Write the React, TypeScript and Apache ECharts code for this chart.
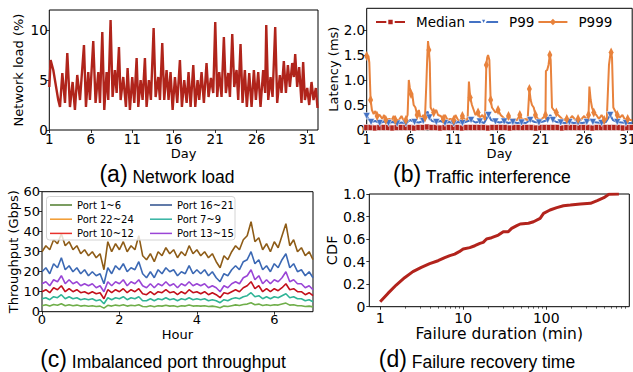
import React, { useEffect, useRef } from "react";
import * as echarts from "echarts";

// ---------- (a) Network load ----------
const loadDays = [1.0,1.16,1.48,2.08,2.29,2.57,2.89,3.17,3.49,3.81,
4.09,4.37,4.70,5.18,5.42,5.70,5.90,6.30,6.58,6.91,
7.11,7.39,7.63,7.91,8.11,8.39,8.63,8.91,9.12,9.40,
9.60,9.92,10.24,10.44,10.72,11.00,11.25,11.53,11.73,12.01,
12.25,12.53,12.73,13.01,13.25,13.58,13.82,14.14,14.34,14.62,
14.86,15.14,15.38,15.62,15.87,16.15,16.43,16.75,16.99,17.27,
17.56,17.79,18.04,18.36,18.60,18.88,19.08,19.36,19.64,19.96,
20.20,20.49,20.77,21.01,21.25,21.49,21.77,22.05,22.29,22.58,
22.78,23.06,23.30,23.58,23.78,24.06,24.30,24.58,24.82,25.11,
25.39,25.67,25.91,26.19,26.47,26.79,27.03,27.16,27.40,27.68,
27.92,28.24,28.48,28.80,29.00,29.28,29.53,29.77,30.01,30.29,
30.49,30.65,30.89,31.13,31.41,31.61,31.82,32.10,32.34,32.62,
32.86,33.14,33.34];
const loadVals = [4.3,7.0,6.0,3.0,2.3,5.7,2.7,7.7,2.3,4.8,
2.0,5.5,3.0,8.5,2.3,5.8,3.0,8.9,2.7,5.8,
2.7,9.8,2.0,5.8,3.0,11.0,3.3,6.0,3.7,8.3,
3.0,5.3,2.3,6.2,2.0,5.3,2.7,7.2,2.3,5.0,
3.0,7.2,2.3,5.0,3.0,10.2,3.3,5.3,3.0,8.7,
3.0,6.0,3.0,5.8,2.0,5.3,2.7,7.0,2.3,5.0,
2.7,5.8,2.3,6.5,2.3,5.0,3.0,5.8,2.7,6.7,
3.3,5.2,3.7,10.8,3.3,5.8,3.3,9.3,3.7,5.7,
3.3,9.6,4.3,6.0,3.0,8.6,2.7,6.0,2.3,5.7,
2.3,6.0,3.0,5.8,2.3,6.0,3.7,10.5,3.0,5.3,
3.3,10.3,2.7,5.5,3.7,6.9,3.7,6.5,4.3,6.7,
5.3,7.6,4.3,6.3,2.7,6.8,3.0,4.2,2.5,4.8,
3.0,4.2,2.2];
const loadTickPos = [1, 6, 11, 16, 21, 26, 32.1];
const loadTickLabels = ["1", "6", "11", "16", "21", "26", "31"];
const loadYTicks = [0, 5, 10];

// ---------- (b) Traffic interference ----------
const latDayTicks = [1, 6, 11, 16, 21, 26, 31];
const latYTicks = [0, 0.5, 1, 1.5, 2];
const medianStartDay = 1;
const medianStepDay = 0.5;
const medianVals = [0.05,0.05,0.04,0.05,0.05,0.05,0.04,0.05,0.05,0.05,
0.05,0.04,0.05,0.05,0.06,0.05,0.05,0.04,0.05,0.05,
0.05,0.05,0.04,0.05,0.05,0.05,0.05,0.05,0.04,0.05,
0.05,0.05,0.05,0.04,0.05,0.05,0.05,0.05,0.05,0.04,
0.05,0.05,0.05,0.05,0.05,0.04,0.05,0.05,0.05,0.05,
0.05,0.05,0.04,0.05,0.05,0.05,0.05,0.05,0.05,0.04,
0.05,0.05];
const p99Days = [1.0,1.2,1.5,2.0,2.5,3.0,3.5,4.0,4.5,5.0,5.5,6.0,6.5,7.0,7.5,8.0,8.2,8.5,9.0,9.5,
10.0,10.5,11.0,11.5,12.0,12.5,13.0,13.5,14.0,14.5,15.0,15.3,15.8,16.3,16.8,17.3,17.8,18.3,18.8,19.3,
19.8,20.3,20.8,21.3,21.8,22.1,22.4,22.8,23.3,23.8,24.3,24.8,25.3,25.8,26.3,26.7,27.0,27.5,28.0,28.5,
29.0,29.3,29.8,30.3,30.8,31.5];
const p99Vals = [0.28,0.22,0.16,0.18,0.14,0.17,0.14,0.16,0.13,0.15,0.13,0.2,0.16,0.15,0.18,0.37,0.25,0.18,0.16,0.18,
0.14,0.16,0.13,0.16,0.14,0.17,0.2,0.15,0.17,0.14,0.3,0.2,0.17,0.15,0.17,0.14,0.16,0.14,0.15,0.14,
0.2,0.16,0.15,0.17,0.2,0.3,0.2,0.16,0.15,0.14,0.16,0.14,0.15,0.14,0.16,0.22,0.16,0.15,0.14,0.16,
0.3,0.2,0.16,0.15,0.14,0.14];
const p999Days = [1.0,1.1,1.2,1.3,1.45,1.6,1.8,2.0,2.2,2.5,2.8,3.0,3.2,3.6,3.9,4.1,4.3,4.7,5.0,5.2,
5.5,5.7,5.84,5.95,6.1,6.25,6.4,6.6,6.8,7.0,7.2,7.5,7.7,7.85,7.95,8.05,8.15,8.25,8.35,8.5,
8.7,9.0,9.2,9.5,9.8,10.0,10.3,10.6,11.0,11.2,11.5,11.8,12.0,12.3,12.6,12.75,12.9,13.1,13.3,13.5,
13.8,14.0,14.3,14.6,14.75,14.85,14.95,15.1,15.25,15.4,15.6,15.8,16.1,16.4,16.7,17.0,17.3,17.6,18.0,18.3,
18.6,18.9,19.2,19.5,19.7,19.85,20.0,20.2,20.4,20.7,21.0,21.3,21.55,21.6,21.75,21.9,22.05,22.15,22.3,22.5,
22.8,23.0,23.3,23.6,24.0,24.3,24.6,25.0,25.3,25.6,26.0,26.3,26.5,26.6,26.75,26.9,27.1,27.4,27.7,28.0,
28.3,28.6,28.85,29.0,29.1,29.2,29.35,29.5,29.8,30.1,30.4,30.7,31.0,31.3,31.5];
const p999Vals = [1.48,1.45,1.48,1.35,0.6,0.4,0.32,0.38,0.28,0.3,0.22,0.3,0.2,0.22,0.2,0.28,0.2,0.2,0.28,0.2,
0.2,0.3,1.0,0.85,0.72,0.7,0.5,0.45,0.3,0.4,0.22,0.3,0.25,0.9,1.4,1.78,1.6,1.35,0.45,0.4,
0.35,0.4,0.3,0.28,0.22,0.3,0.2,0.22,0.2,0.3,0.2,0.2,0.28,0.2,0.22,0.97,0.65,0.5,0.4,0.3,
0.35,0.25,0.3,0.2,1.3,1.45,1.5,1.4,0.6,0.45,0.4,0.35,0.4,0.3,0.25,0.2,0.28,0.2,0.22,0.2,
0.3,0.2,0.22,0.2,0.82,0.6,0.5,0.45,0.3,0.22,0.2,0.25,0.3,1.18,1.2,1.3,1.5,1.4,0.45,0.4,
0.35,0.3,0.25,0.2,0.22,0.2,0.28,0.2,0.22,0.2,0.28,0.2,0.3,0.87,0.6,0.45,0.35,0.3,0.22,0.3,
0.2,0.22,1.3,1.5,1.55,1.45,0.45,0.4,0.3,0.25,0.3,0.2,0.22,0.2,0.2];

// ---------- (c) Imbalanced port throughput ----------
const hourStep = 0.1;
const hourTicks = [0, 2, 4, 6];
const port1to6 = [3,3.5,2.8,3.6,3.2,4,3,3.5,3,3.3, 2.8,3.1,2.7,3,2.6,2.8,1.8,3.2,2.8,3.3, 3,3.5,2.8,3.2,3,3.5,2.6,2.5,3,2.5, 3,2.8,3.2,2.8,3,2.5,3,2.8,3.3,2.8, 3,2.8,3,2.6,2.8,2.5,2,2.8,2.6,3, 3.4,3.1,3.6,3.8,4.5,3.5,3.8,3.1,3.5,3.1, 3.5,3.3,3.8,4.3,3.3,3.5,3,3,2.6,2.8, 2.4];
const port22to24 = [30,33,31,36,34,39,33,35,31,33, 29,31,28,30,27,29,21,35,30,34, 31,35,30,33,31,38,28,26,29,25, 30,28,32,29,31,27,30,28,33,29, 31,28,30,27,29,25,22,28,26,30, 33,31,36,38,45,35,37,31,34,30, 35,32,38,44,33,36,30,32,28,30, 26];
const port10to12 = [10,11,9.5,12,11,13,10,11.5,10,11, 9.5,10,9,10,9,9.5,6.5,11,9.5,11, 10,11.5,9.5,11,10,11.5,9,8.5,10,8.5, 10,9.5,11,9.5,10,8.5,10,9,11,9.5, 10,9,10,8.5,9.5,8.5,7,9.5,9,10, 11,10,12,13,15,11.5,13,10,11.5,10, 11.5,10.5,12,14,11,11.5,10,10,8.5,9.5, 8];
const port16to21 = [20,22,19,24,22,27,21,23,20,22, 19,21,18,20,18,19,14,22,19,23, 21,24,20,22,21,25,19,17,20,17, 21,19,22,20,21,18,20,19,23,19, 21,19,21,18,20,17,15,19,18,21, 23,21,25,26,30,24,26,21,23,20, 24,22,26,29,22,24,20,21,18,20, 17];
const port7to9 = [6.5,7,6,7.5,7,8.5,6.5,7.5,6.5,7, 6,6.5,6,6.5,5.5,6,4,7,6,7, 6.5,7.5,6,7,6.5,7.5,5.5,5.5,6.5,5.5, 6.5,6,7,6,6.5,5.5,6.5,6,7,6, 6.5,6,6.5,5.5,6,5.5,4.5,6,5.5,6.5, 7,6.5,7.5,8,9.5,7.5,8,6.5,7.5,6.5, 7.5,7,8,9,7,7.5,6.5,6.5,5.5,6, 5];
const port13to15 = [14,15,13,16,15,18,14,16,14,15, 13,14,13,14,12,13,10,15,13,15, 14,16,13,15,14,16,13,12,14,12, 14,13,15,13,14,12,14,13,15,13, 14,13,14,12,13,12,10,13,12,14, 15,14,17,18,21,16,18,14,16,14, 16,15,17,20,15,16,14,14,12,13, 11];
const portNames = ["Port 1~6", "Port 22~24", "Port 10~12", "Port 16~21", "Port 7~9", "Port 13~15"];
const portSeries = [port1to6, port22to24, port10to12, port16to21, port7to9, port13to15];
const portLineColors = ["#6fae4a", "#8e5c17", "#c3101c", "#3c69b4", "#2fb496", "#9a45d6"];
const portLegendColors = ["#4f7d2c", "#f29a2e", "#e8322c", "#2c4f8c", "#33b3a2", "#9a45d6"];

// ---------- (d) Failure recovery time ----------
const failDur = [1,1.24,1.56,1.97,2.48,3.13,3.95,4.98,6.0,6.9,7.9,8.95,10,12,13.8,15.9,17.4,19.1,22,26.5,
30.4,34.9,38.3,44.2,48.6,61.1,70.3,84.4,92.8,111,134,161,195,258,341,411,494,568,750];
const failCdf = [0.044,0.118,0.192,0.257,0.311,0.349,0.382,0.408,0.435,0.453,0.467,0.488,0.512,0.524,0.541,0.562,0.571,0.601,0.612,0.636,
0.666,0.666,0.695,0.719,0.734,0.74,0.754,0.784,0.828,0.858,0.879,0.896,0.902,0.911,0.917,0.941,0.967,0.997,1.0];
const durMajorTicks = [1, 10, 100];
const durMinorTicks = [2,3,4,5,6,7,8,9,20,30,40,50,60,70,80,90,200,300,400,500,600,700,800,900];

const FONT = "DejaVu Sans";
const TITLE_FONT = "Liberation Sans";
const fmt1 = (v: number) => (v === 0 ? "0" : v.toFixed(1));

function axis(o: any) {
  const { labelSize = 13.5, nameSize = 13, tickLen = 3, margin = 2, ticks, formatter, nameGap, ...rest } = o;
  return {
    axisLine: { show: false },
    splitLine: { show: false },
    axisTick: {
      show: true,
      length: tickLen,
      lineStyle: { color: "#000", width: 0.8 },
      ...(ticks ? { customValues: ticks } : {}),
    },
    axisLabel: {
      color: "#000",
      fontSize: labelSize,
      fontFamily: FONT,
      margin,
      ...(ticks ? { customValues: ticks } : {}),
      ...(formatter ? { formatter } : {}),
    },
    nameLocation: "middle",
    nameGap,
    nameTextStyle: { color: "#000", fontSize: nameSize, fontFamily: FONT },
    ...rest,
  };
}

function title(x: number, y: number, tag: string, text: string) {
  return {
    type: "text",
    x,
    y,
    z: 10,
    style: {
      text: `{p|${tag}}{t| ${text}}`,
      rich: {
        p: { fontSize: 23, fontFamily: TITLE_FONT, fill: "#000", verticalAlign: "bottom" },
        t: { fontSize: 17.5, fontFamily: TITLE_FONT, fill: "#000", verticalAlign: "bottom" },
      },
      align: "center",
      verticalAlign: "middle",
      textAlign: "center",
      textVerticalAlign: "middle",
    },
  };
}

function buildOption(): any {
  const grids = [
    { left: 49.3, top: 10, width: 268.7, height: 120 },
    { left: 366.7, top: 8.3, width: 265.5, height: 121.7 },
    { left: 42, top: 191.7, width: 271, height: 120 },
    { left: 369.3, top: 194, width: 260, height: 112.7 },
  ].map((g) => ({
    ...g,
    show: true,
    borderColor: "#000",
    borderWidth: 1,
    backgroundColor: "transparent",
    containLabel: false,
    outerBoundsMode: "none",
  }));

  const medianData = medianVals.map((v, i) => [medianStartDay + i * medianStepDay, v]);
  const p99Data = p99Days.map((d, i) =>
    i % 2 === 0 ? { value: [d, p99Vals[i]] } : { value: [d, p99Vals[i]], symbol: "none" }
  );
  const p999Data = p999Days.map((d, i) =>
    i % 4 === 0 ? { value: [d, p999Vals[i]] } : { value: [d, p999Vals[i]], symbol: "none" }
  );

  const portSeriesOpts = portSeries.map((vals, k) => ({
    name: portNames[k],
    type: "line",
    xAxisIndex: 2,
    yAxisIndex: 2,
    data: vals.map((v, i) => [i * hourStep, v]),
    symbol: "none",
    color: portLineColors[k],
    lineStyle: { color: portLineColors[k], width: 1.6 },
    z: 2,
  }));

  const legendItem = (k: number) => ({
    name: portNames[k],
    icon: "rect",
    itemStyle: { color: portLegendColors[k], borderWidth: 0 },
  });

  const cLegend = (left: number, idx: number[]) => ({
    orient: "vertical",
    left,
    top: 198,
    padding: 0,
    itemWidth: 22,
    itemHeight: 1.5,
    itemGap: 0.2,
    z: 5,
    data: idx.map(legendItem),
    textStyle: { fontFamily: FONT, fontSize: 10, color: "#000", lineHeight: 14 },
  });

  return {
    animation: false,
    backgroundColor: "#fff",
    textStyle: { fontFamily: FONT, color: "#000" },
    grid: grids,
    xAxis: [
      axis({
        type: "value", gridIndex: 0, min: 1, max: 33.4, ticks: loadTickPos,
        formatter: (v: number) => {
          const i = loadTickPos.indexOf(v);
          return i >= 0 ? loadTickLabels[i] : "";
        },
        name: "Day", nameGap: 17, margin: 1.5,
      }),
      axis({ type: "value", gridIndex: 1, min: 1, max: 31.52, ticks: latDayTicks, name: "Day", nameGap: 17, margin: 1.5 }),
      axis({ type: "value", gridIndex: 2, min: 0, max: 7, ticks: hourTicks, labelSize: 13, name: "Hour", nameGap: 16, margin: 1.5 }),
      axis({
        type: "log", logBase: 10, gridIndex: 3, min: 0.74, max: 1000, ticks: durMajorTicks,
        labelSize: 14, nameSize: 15.5, name: "Failure duration (min)", nameGap: 18, margin: 4,
        formatter: (v: number) => String(Math.round(v)),
      }),
      {
        type: "log", logBase: 10, gridIndex: 3, min: 0.74, max: 1000, position: "bottom",
        axisLine: { show: false }, splitLine: { show: false },
        axisLabel: { show: false, customValues: durMinorTicks },
        axisTick: { show: true, length: 2, customValues: durMinorTicks, lineStyle: { color: "#000", width: 0.6 } },
      },
    ],
    yAxis: [
      axis({ type: "value", gridIndex: 0, min: 0, max: 12, ticks: loadYTicks, name: "Network load (%)", nameGap: 24, margin: 1.5 }),
      axis({ type: "value", gridIndex: 1, min: 0, max: 2.434, ticks: latYTicks, formatter: fmt1, name: "Latency (ms)", nameGap: 25, margin: 1.5 }),
      axis({ type: "value", gridIndex: 2, min: 0, max: 60, interval: 10, labelSize: 13, name: "Throughput (Gbps)", nameGap: 17, margin: 2 }),
      axis({ type: "value", gridIndex: 3, min: 0, max: 1, interval: 0.2, formatter: fmt1, labelSize: 14, nameSize: 14.5, name: "CDF", nameGap: 25, margin: 4 }),
    ],
    legend: [
      {
        left: 375,
        top: 15,
        padding: 0,
        itemWidth: 29,
        itemHeight: 8,
        itemGap: 3,
        data: ["Median", "P99", "P999"],
        textStyle: { fontFamily: FONT, fontSize: 13.5, color: "#000", padding: [0, 0, 0, 6] },
      },
      cLegend(50, [0, 1, 2]),
      cLegend(150, [3, 4, 5]),
    ],
    graphic: [
      {
        type: "rect",
        z: 3,
        shape: { x: 46.5, y: 196.5, width: 188.5, height: 43.5, r: 3 },
        style: { fill: "rgba(255,255,255,0.8)", stroke: "#d4d4d4", lineWidth: 1 },
      },
      title(167, 174, "(a)", "Network load"),
      title(482, 174, "(b)", "Traffic interference"),
      title(163, 359, "(c)", "Imbalanced port throughput"),
      title(477, 359, "(d)", "Failure recovery time"),
    ],
    series: [
      {
        type: "line",
        xAxisIndex: 0,
        yAxisIndex: 0,
        data: loadDays.map((d, i) => [d, loadVals[i]]),
        symbol: "none",
        color: "#b0241b",
        lineStyle: { color: "#b0241b", width: 2.4 },
      },
      {
        name: "Median",
        type: "line",
        xAxisIndex: 1,
        yAxisIndex: 1,
        data: medianData,
        symbol: "rect",
        symbolSize: 6,
        showAllSymbol: true,
        color: "#b2231c",
        itemStyle: { color: "#b2231c", borderColor: "#fff", borderWidth: 0.6 },
        lineStyle: { color: "#b2231c", width: 2.5 },
      },
      {
        name: "P99",
        type: "line",
        xAxisIndex: 1,
        yAxisIndex: 1,
        data: p99Data,
        symbol: "triangle",
        symbolRotate: 180,
        symbolSize: 7,
        showAllSymbol: true,
        color: "#4472c4",
        itemStyle: { color: "#4472c4", borderColor: "#fff", borderWidth: 0.5 },
        lineStyle: { color: "#4472c4", width: 2 },
      },
      {
        name: "P999",
        type: "line",
        xAxisIndex: 1,
        yAxisIndex: 1,
        data: p999Data,
        symbol: "diamond",
        symbolSize: [5, 10],
        showAllSymbol: true,
        color: "#e8823c",
        itemStyle: { color: "#e8823c" },
        lineStyle: { color: "#e8823c", width: 2 },
      },
      ...portSeriesOpts,
      {
        type: "line",
        xAxisIndex: 3,
        yAxisIndex: 3,
        data: failDur.map((d, i) => [d, failCdf[i]]),
        symbol: "none",
        color: "#b2231c",
        lineStyle: { color: "#b2231c", width: 3 },
      },
    ],
  };
}

export default function App() {
  const ref = useRef<HTMLDivElement>(null);
  useEffect(() => {
    const chart = echarts.init(ref.current!, null, { renderer: "svg" });
    chart.setOption(buildOption());
    return () => chart.dispose();
  }, []);
  return (
    <div
      ref={ref}
      style={{ position: "absolute", left: 0, top: 0, width: 633, height: 372, background: "#fff" }}
    />
  );
}
